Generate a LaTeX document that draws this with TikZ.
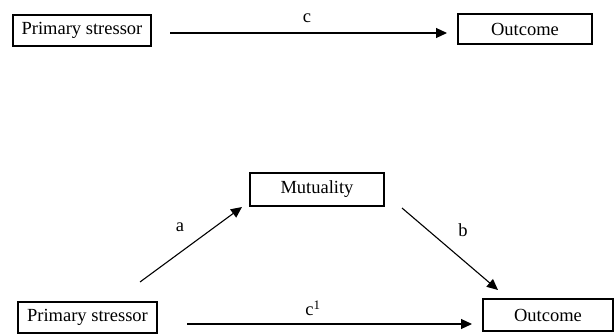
\documentclass[tikz,border=0pt]{standalone}
\usepackage{fontspec}
\setmainfont{Liberation Serif}
\usetikzlibrary{arrows.meta}
\begin{document}
\begin{tikzpicture}[x=1pt,y=-1pt,
  box/.style={draw,line width=1.1pt,rectangle,inner sep=0pt,font=\fontsize{18.5}{20}\selectfont},
  lbl/.style={inner sep=0pt,font=\fontsize{18.5}{20}\selectfont},
  arr/.style={line width=1.1pt,-{Triangle[length=11pt,width=10pt]}}]
\useasboundingbox (0,0) rectangle (614,334);
% top model
\node[box,minimum width=138pt,minimum height=31pt] (ps1) at (82,30.5) {Primary stressor};
\node[box,minimum width=134pt,minimum height=30pt] (out1) at (525,29) {Outcome};
\coordinate (c1s) at (170,33);
\coordinate (c1e) at (447,33);
\draw[arr] (c1s) -- (c1e);
\node[lbl] (lc) at (307,18) {c};
% mediation model
\node[box,minimum width=134pt,minimum height=33pt] (mut) at (317,189.5) {Mutuality};
\node[box,minimum width=139pt,minimum height=31pt] (ps2) at (87.5,317.5) {Primary stressor};
\node[box,minimum width=130pt,minimum height=32pt] (out2) at (548,315) {Outcome};
\coordinate (as) at (140,282);
\coordinate (ae) at (242,207);
\coordinate (bs) at (402,208);
\coordinate (be) at (498,290);
\coordinate (cs) at (187,324);
\coordinate (ce) at (472,324);
\draw[arr] (as) -- (ae);
\draw[arr] (bs) -- (be);
\draw[arr] (cs) -- (ce);
\node[lbl] (la) at (180,227) {a};
\node[lbl] (lb) at (463,230) {b};
\node[lbl] (lc1) at (313,308) {c\textsuperscript{1}};
\end{tikzpicture}
\end{document}
